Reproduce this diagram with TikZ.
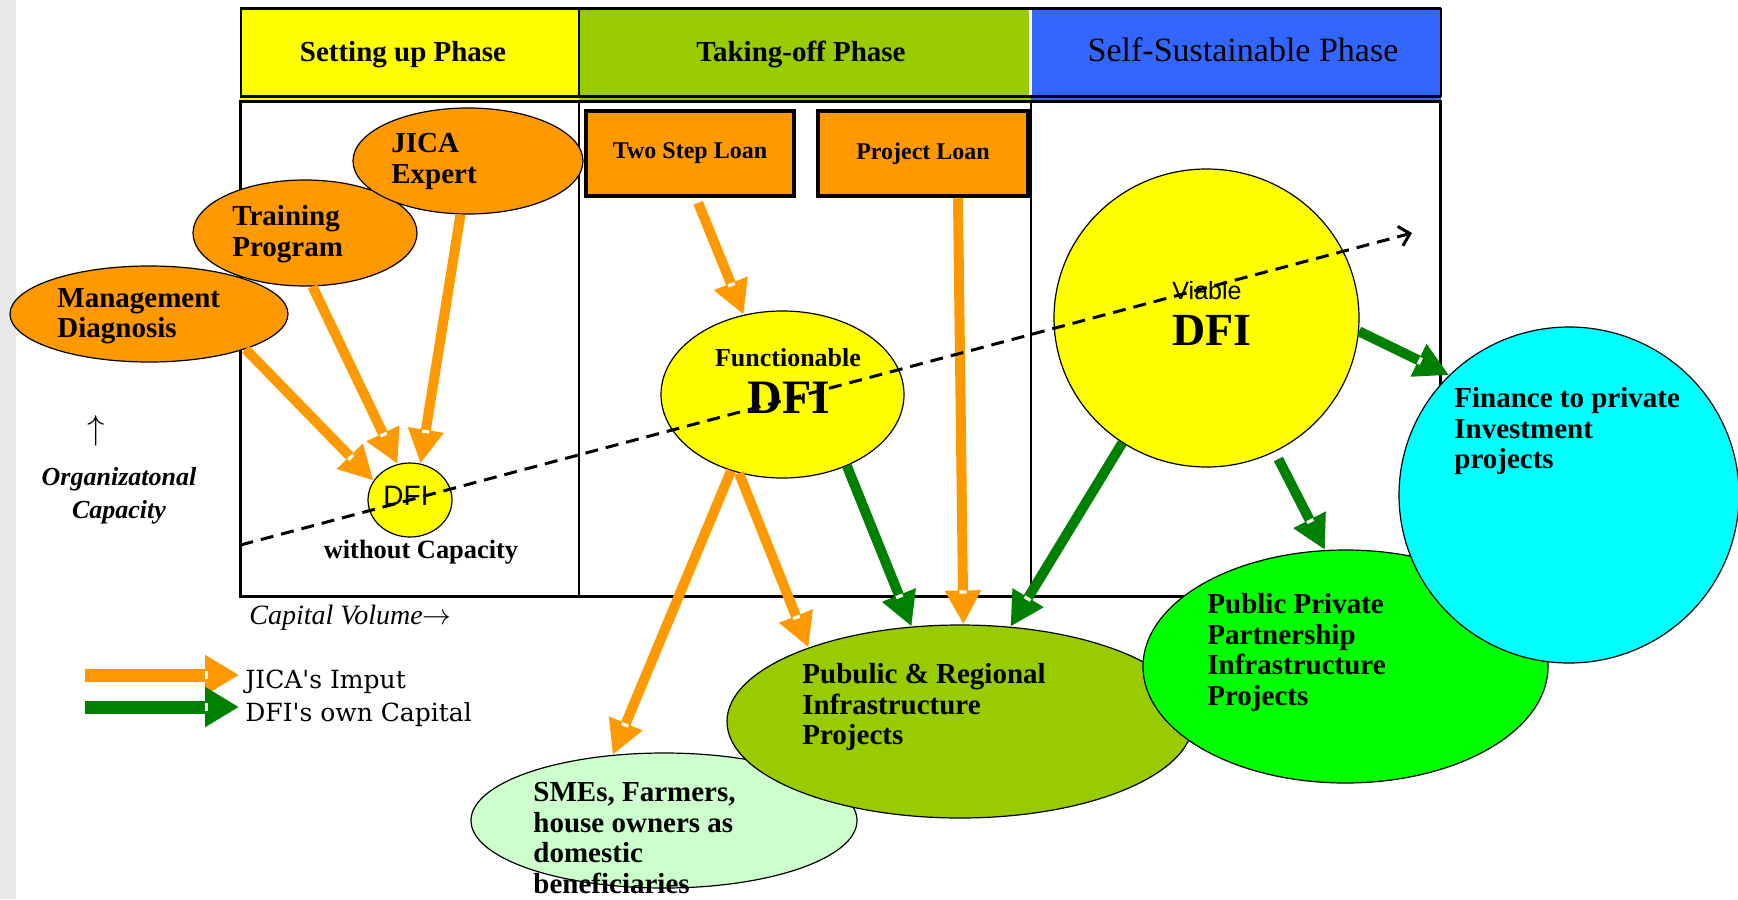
\documentclass[tikz,border=0pt]{standalone}
\usepackage{fontspec}
\setmainfont{Liberation Serif}
\newfontfamily\arialfont{Liberation Sans}
\newfontfamily\legendfont{DejaVu Serif}
\usepackage{tikz}
\usetikzlibrary{shapes.geometric, arrows.meta, decorations.markings}
\definecolor{hdr-yellow}{HTML}{FFFF00}
\definecolor{hdr-green}{HTML}{99CC00}
\definecolor{hdr-blue}{HTML}{3366FF}
\definecolor{jica-orange}{HTML}{FF9900}
\definecolor{dfi-green}{HTML}{008000}
\definecolor{ppp-green}{HTML}{00FF00}
\definecolor{sme-green}{HTML}{CCFFCC}
\definecolor{fin-cyan}{HTML}{00FFFF}

\begin{document}
\begin{tikzpicture}[x=0.5pt, y=-0.5pt,
	bubble/.style={ellipse, draw=black, line width=0.6pt, inner sep=0pt},
	loanbox/.style={rectangle, draw=black, line width=2.25pt, fill=jica-orange, inner sep=0pt, minimum height=42.5pt, font=\bfseries\fontsize{12}{12}\selectfont},
	lbl/.style={inner sep=0pt, align=left, anchor=north west, font=\bfseries\fontsize{14.5}{15.3}\selectfont},
	notch/.style={postaction={decorate, decoration={markings, mark=at position 1 with {\fill[white] (-17pt,-1.8pt) rectangle (-15.4pt,1.8pt);}}}},
	jicaflow/.style={draw=jica-orange, line width=5pt, -{Triangle[length=17pt,width=17pt]}, notch},
	dfiflow/.style={draw=dfi-green, line width=5pt, -{Triangle[length=17pt,width=17pt]}, notch},
	legendflow/.style={line width=6.5pt, -{Triangle[length=17pt,width=19pt]}}]
	\useasboundingbox (0,0) rectangle (1738,899);
	\fill[black!9] (0,0) rectangle (16,899);

	% phases
	\fill[hdr-yellow] (240,8) rectangle (579,100);
	\fill[hdr-green] (579,8) rectangle (1031,100);
	\fill[hdr-blue] (1031,8) rectangle (1441,100);
	\draw[white, line width=1.2pt] (1030.5,9) -- (1030.5,96);
	\draw[line width=1.5pt] (240,8.5) -- (1441,8.5);
	\draw[line width=1.25pt] (240,96.5) -- (1441,96.5);
	\draw[line width=1pt] (240.5,8) -- (240.5,97) (579,8) -- (579,97) (1440.5,8) -- (1440.5,97);
	\draw[line width=1.1pt] (240.5,101.5) rectangle (1440.5,596.5);
	\draw[line width=1.1pt] (579,101) -- (579,597) (1031,101) -- (1031,597);
	\node[anchor=base, font=\bfseries\fontsize{14.5}{15}\selectfont] (setup) at (403,62) {Setting up Phase};
	\node[anchor=base, font=\bfseries\fontsize{14.5}{15}\selectfont] (takeoff) at (801,62) {Taking-off Phase};
	\node[anchor=base, font=\fontsize{17}{17}\selectfont] (selfsus) at (1243,62) {Self-Sustainable Phase};

	% inputs
	\node[bubble, fill=jica-orange, minimum width=112pt, minimum height=53pt] (train) at (305,233) {};
	\node[bubble, fill=jica-orange, minimum width=115pt, minimum height=53pt] (expert) at (468,161) {};
	\node[bubble, fill=jica-orange, minimum width=139pt, minimum height=48pt] (mgmt) at (149,314) {};
	\node[loanbox, minimum width=104pt] (twostep) at (690,153.5) {\raisebox{0pt}{Two Step Loan}};
	\node[loanbox, minimum width=105pt] (projloan) at (923,153.5) {Project Loan};

	% DFI stages
	\node[bubble, fill=hdr-yellow, minimum width=42pt, minimum height=37pt] (dfi0) at (410,500) {};
	\node[bubble, fill=hdr-yellow, minimum width=121.5pt, minimum height=83.5pt] (func) at (782.5,394.5) {};
	\node[bubble, fill=hdr-yellow, minimum width=152.5pt, minimum height=149pt] (viable) at (1206.5,318) {};

	% projects
	\node[bubble, fill=sme-green, minimum width=193pt, minimum height=67.5pt] (smes) at (664,820.5) {};
	\node[bubble, fill=hdr-green, minimum width=233pt, minimum height=96.5pt] (pr) at (960,721.5) {};
	\node[bubble, fill=ppp-green, minimum width=202.5pt, minimum height=116.5pt] (ppp) at (1345.5,666.5) {};
	\node[bubble, fill=fin-cyan, minimum width=170pt, minimum height=168pt] (cyan) at (1569,495) {};

	\draw[jicaflow] (mgmt.-20) -- (dfi0.152);
	\draw[jicaflow] (train.-82) -- (dfi0.109);
	\draw[jicaflow] (expert.-98) -- (dfi0.74);
	\draw[jicaflow, shorten <=2.5pt] (twostep.-82) -- (func.116);
	\draw[jicaflow] (projloan.-52) -- (pr.88);
	\draw[jicaflow] (func.-119) -- (pr.154);
	\draw[jicaflow] (func.-124) -- (smes.128);
	\draw[dfiflow] (func.-48) -- (pr.117);
	\draw[dfiflow] (viable.-124) -- (pr.62);
	\draw[dfiflow, shorten <=4pt] (viable.-63) -- (ppp.100);
	\draw[dfiflow] (viable.-5) -- (cyan.135);

	\node[lbl] (expertT) at (391,133) {JICA\\Expert};
	\node[lbl] (trainT) at (232,205) {Training\\Program};
	\node[lbl] (mgmtT) at (57,288) {Management\\Diagnosis};
	\node[lbl] (cyanT) at (1454,387) {Finance to private\\Investment\\projects};
	\node[lbl] (pppT) at (1207,593) {Public Private\\Partnership\\Infrastructure\\Projects};
	\node[lbl] (prT) at (802,663) {Pubulic \& Regional\\Infrastructure\\Projects};
	\node[lbl] (smesT) at (533,782) {SMEs, Farmers,\\house owners as\\domestic\\beneficiaries};

	\node[anchor=base, inner sep=0pt, font=\arialfont\fontsize{14}{14}\selectfont] (dfi0T) at (406,505) {DFI};
	\node[anchor=base, inner sep=0pt, font=\bfseries\fontsize{13.2}{14}\selectfont] (nocap) at (421,558) {without Capacity};
	\node[anchor=base, inner sep=0pt, font=\bfseries\fontsize{13}{14}\selectfont] (funcT) at (788,366) {Functionable};
	\node[anchor=base, inner sep=0pt, font=\bfseries\fontsize{24}{24}\selectfont] (funcD) at (789,413) {DFI};
	\node[anchor=base, inner sep=0pt, font=\arialfont\fontsize{12.5}{13}\selectfont] (viableT) at (1207,299) {Viable};
	\node[anchor=base, inner sep=0pt, font=\bfseries\fontsize{23}{23}\selectfont] (viableD) at (1212,345) {DFI};

	% axes
	\node[font=\fontsize{16}{16}\selectfont] (up) at (96,431) {$\uparrow$};
	\node[anchor=north, inner sep=0pt, align=center, font=\bfseries\itshape\fontsize{13}{16.5}\selectfont] (orgcap) at (119,467) {Organizatonal\\Capacity};
	\node[anchor=base west, inner sep=0pt, font=\itshape\fontsize{14}{14}\selectfont] (capvol) at (249,624) {Capital Volume$\rightarrow$};
	\coordinate (growA) at (240.5,545);
	\coordinate (growB) at (1412,233);
	\draw[line width=1.5pt, dash pattern=on 6.5pt off 4pt, -{Straight Barb[length=5pt,width=10pt]}] (growA) -- (growB);

	% legend
	\coordinate (legA) at (85,675);
	\coordinate (legB) at (239,675);
	\coordinate (legC) at (85,707);
	\coordinate (legD) at (239,707);
	\draw[jicaflow, legendflow] (legA) -- (legB);
	\draw[dfiflow, legendflow] (legC) -- (legD);
	\node[anchor=base west, inner sep=0pt, font=\legendfont\fontsize{12.5}{13}\selectfont] (legjica) at (245,688) {JICA\textquotesingle s Imput};
	\node[anchor=base west, inner sep=0pt, font=\legendfont\fontsize{12.5}{13}\selectfont] (legdfi) at (245,721) {DFI\textquotesingle s own Capital};
\end{tikzpicture}
\end{document}
